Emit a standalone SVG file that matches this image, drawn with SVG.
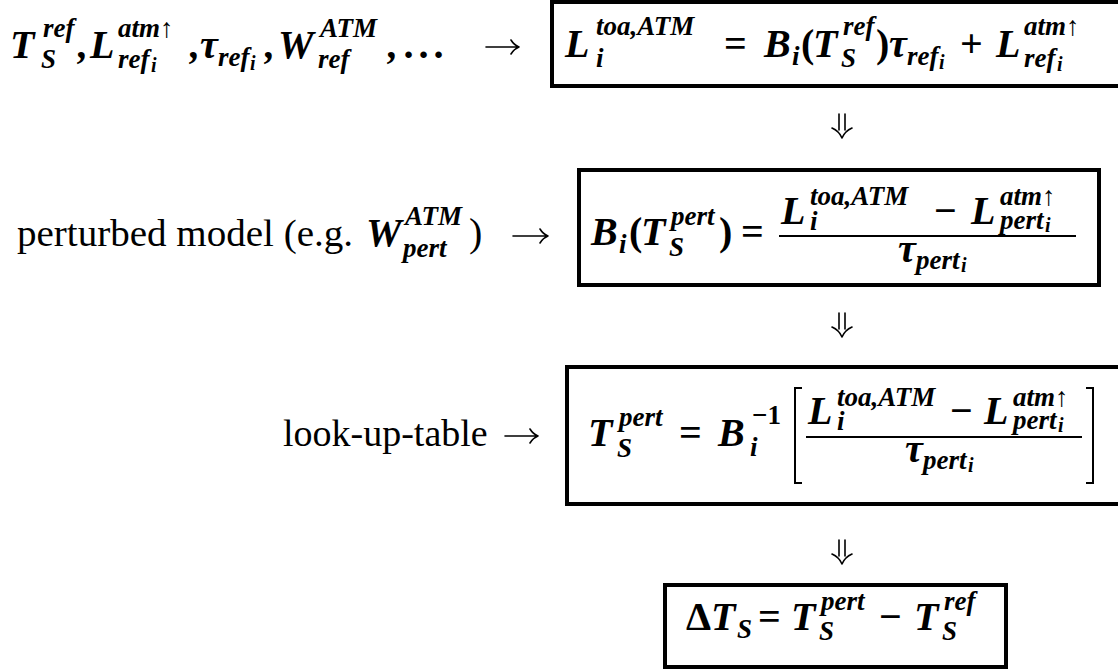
<svg xmlns="http://www.w3.org/2000/svg" width="1118" height="670" viewBox="0 0 1118 670">
<style>
.mi{font-family:"Liberation Serif","Times New Roman",serif;font-style:italic;font-weight:bold;font-size:40px;fill:#000}
.sc{font-size:27px}
.ss{font-size:20px}
.up{font-style:normal}
.rm{font-family:"Liberation Serif","Times New Roman",serif;font-size:38px;fill:#000}
.box{fill:none;stroke:#000;stroke-width:4}
.arr{fill:none;stroke:#000;stroke-width:1.6;stroke-linecap:round;stroke-linejoin:round}
.bar{fill:none;stroke:#000;stroke-width:2}
</style>
<rect width="1118" height="670" fill="#fff"/>

<g id="inputs-ref">
<text class="mi">
<tspan x="10" y="58">T</tspan><tspan class="sc" x="43" y="37">ref</tspan><tspan class="sc" x="41" y="68">S</tspan>
<tspan x="78" y="58">,</tspan>
<tspan x="90" y="58">L</tspan><tspan class="sc" x="118" y="37">atm↑</tspan><tspan class="sc" x="118" y="68">ref</tspan><tspan class="ss" x="151" y="72">i</tspan>
<tspan x="190" y="58">,</tspan>
<tspan x="200" y="58">τ</tspan><tspan class="sc" x="218" y="66">ref</tspan><tspan class="ss" x="250" y="70">i</tspan>
<tspan x="265" y="58">,</tspan>
<tspan x="278" y="58">W</tspan><tspan class="sc" x="320" y="37">ATM</tspan><tspan class="sc" x="318" y="68">ref</tspan>
<tspan x="388" y="58">,</tspan>
<tspan x="405" y="58">.</tspan><tspan x="420" y="58">.</tspan><tspan x="435" y="58">.</tspan>
</text>
</g>

<g id="box-toa-ref">
<rect class="box" x="552" y="2" width="580" height="84"/>
<text class="mi">
<tspan x="565" y="57">L</tspan><tspan class="sc" x="596" y="35">toa,ATM</tspan><tspan class="sc" x="596" y="67">i</tspan>
<tspan class="up" x="724" y="57">=</tspan>
<tspan x="764" y="57">B</tspan><tspan class="sc" x="792" y="65">i</tspan>
<tspan class="up" x="801" y="57">(</tspan>
<tspan x="813" y="57">T</tspan><tspan class="sc" x="843" y="35">ref</tspan><tspan class="sc" x="841" y="67">S</tspan>
<tspan class="up" x="876" y="57">)</tspan>
<tspan x="889" y="57">τ</tspan><tspan class="sc" x="907" y="65">ref</tspan><tspan class="ss" x="939" y="69">i</tspan>
<tspan class="up" x="960" y="57">+</tspan>
<tspan x="996" y="57">L</tspan><tspan class="sc" x="1024" y="35">atm↑</tspan><tspan class="sc" x="1024" y="67">ref</tspan><tspan class="ss" x="1057" y="71">i</tspan>
</text>
</g>

<g id="perturbed-model">
<text class="rm"><tspan x="17" y="246" textLength="336" lengthAdjust="spacingAndGlyphs">perturbed model (e.g.</tspan></text>
<text class="mi">
<tspan x="366" y="246">W</tspan><tspan class="sc" x="405" y="225">ATM</tspan><tspan class="sc" x="403" y="257">pert</tspan>
<tspan class="up" style="font-weight:normal" x="469" y="246">)</tspan>
</text>
</g>

<g id="box-planck-pert">
<rect class="box" x="579" y="170" width="520" height="115"/>
<text class="mi">
<tspan x="591" y="245">B</tspan><tspan class="sc" x="619" y="253">i</tspan>
<tspan class="up" x="629" y="245">(</tspan>
<tspan x="641" y="245">T</tspan><tspan class="sc" x="671" y="225">pert</tspan><tspan class="sc" x="669" y="256">S</tspan>
<tspan class="up" x="719" y="245">)</tspan>
<tspan class="up" x="741" y="245">=</tspan>
<tspan x="781" y="224">L</tspan><tspan class="sc" x="810" y="205">toa,ATM</tspan><tspan class="sc" x="810" y="230">i</tspan>
<tspan class="up" x="934" y="224">−</tspan>
<tspan x="971" y="224">L</tspan><tspan class="sc" x="1000" y="205">atm↑</tspan><tspan class="sc" x="1000" y="229">pert</tspan><tspan class="ss" x="1045" y="232">i</tspan>
<tspan x="898" y="262">τ</tspan><tspan class="sc" x="916" y="269">pert</tspan><tspan class="ss" x="961" y="272">i</tspan>
</text>
<path class="bar" d="M779 236H1076"/>
</g>

<g id="look-up-table">
<text class="rm"><tspan x="283" y="446">look-up-table</tspan></text>
</g>

<g id="box-lut">
<rect class="box" x="567" y="367" width="560" height="137"/>
<text class="mi">
<tspan x="588" y="446">T</tspan><tspan class="sc" x="619" y="426">pert</tspan><tspan class="sc" x="617" y="457">S</tspan>
<tspan class="up" x="679" y="446">=</tspan>
<tspan x="718" y="446">B</tspan><tspan class="sc up" x="752" y="424">−1</tspan><tspan class="sc" x="750" y="456">i</tspan>
<tspan x="808" y="424">L</tspan><tspan class="sc" x="837" y="406">toa,ATM</tspan><tspan class="sc" x="837" y="430">i</tspan>
<tspan class="up" x="950" y="424">−</tspan>
<tspan x="984" y="424">L</tspan><tspan class="sc" x="1013" y="406">atm↑</tspan><tspan class="sc" x="1013" y="429">pert</tspan><tspan class="ss" x="1058" y="432">i</tspan>
<tspan x="905" y="462">τ</tspan><tspan class="sc" x="923" y="469">pert</tspan><tspan class="ss" x="968" y="472">i</tspan>
</text>
<path class="bar" d="M806 437H1082"/>
<path class="bar" d="M802 388H795V483H802M1086 388H1093V483H1086"/>
</g>

<g id="box-delta">
<rect class="box" x="665" y="585" width="341" height="82"/>
<text class="mi">
<tspan class="up" x="686" y="630">Δ</tspan><tspan x="711" y="630">T</tspan><tspan class="sc" x="737" y="638">S</tspan>
<tspan class="up" x="758" y="630">=</tspan>
<tspan x="791" y="630">T</tspan><tspan class="sc" x="821" y="610">pert</tspan><tspan class="sc" x="819" y="640">S</tspan>
<tspan class="up" x="879" y="630">−</tspan>
<tspan x="914" y="630">T</tspan><tspan class="sc" x="944" y="610">ref</tspan><tspan class="sc" x="942" y="640">S</tspan>
</text>
</g>

<g id="connectors">
<path class="arr" d="M486 47H519M511 40Q514 45 519 47Q514 49 511 54"/>
<path class="arr" d="M513 236H548M540 229Q543 234 548 236Q543 238 540 243"/>
<path class="arr" d="M505 436H538M530 429Q533 434 538 436Q533 438 530 443"/>
<path class="arr" d="M839 114V130M845 114V130M832 128Q839 131 842 138Q845 131 852 128"/>
<path class="arr" d="M839 313V329M845 313V329M832 327Q839 330 842 337Q845 330 852 327"/>
<path class="arr" d="M839 540V556M845 540V556M832 554Q839 557 842 564Q845 557 852 554"/>
</g>
</svg>
